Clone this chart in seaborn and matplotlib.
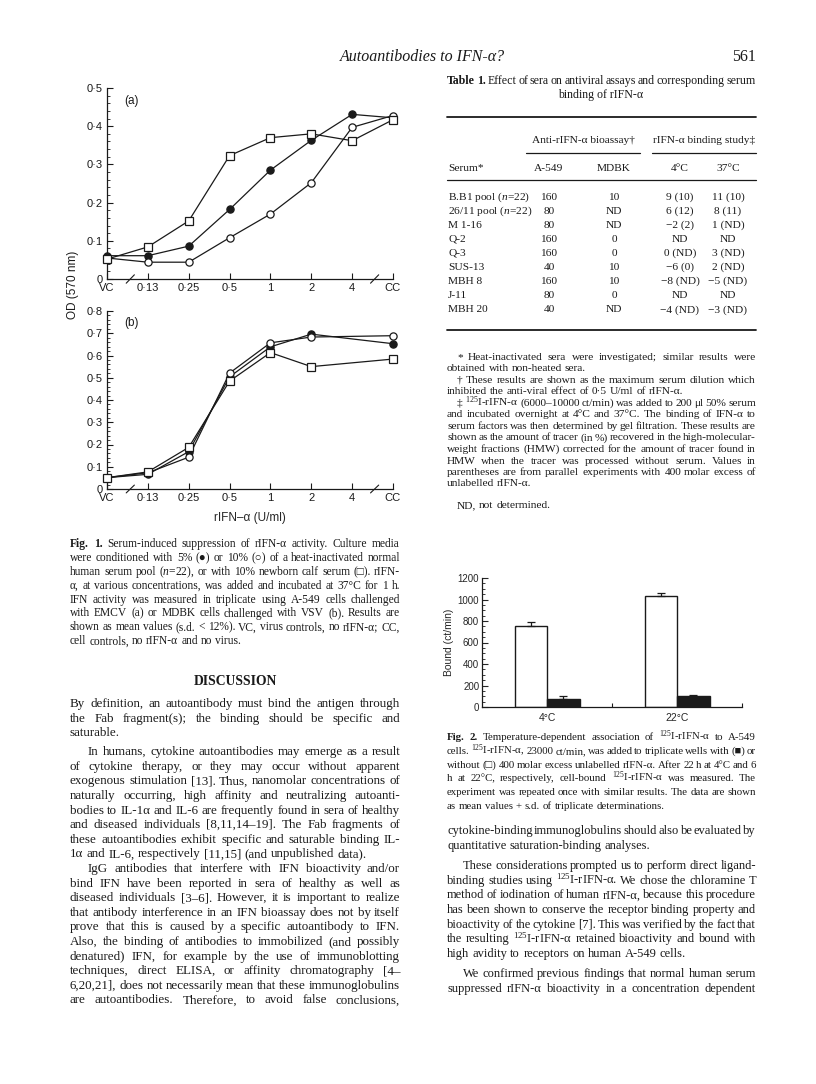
import matplotlib

matplotlib.use("Agg")
import matplotlib.pyplot as plt
import numpy as np
import pandas as pd
import seaborn as sns
from matplotlib.lines import Line2D
from matplotlib.ticker import MultipleLocator

# ---- data -------------------------------------------------------------
DOSES = ["VC", "0·13", "0·25", "0·5", "1", "2", "4", "CC"]

# Fig. 1a, A-549 cells / EMCV
A_SERUM5 = [0.061, 0.061, 0.086, 0.182, 0.285, 0.363, 0.431, 0.422]
A_SERUM10 = [0.055, 0.044, 0.044, 0.108, 0.170, 0.252, 0.397, 0.428]
A_CALF10 = [0.052, 0.084, 0.152, 0.323, 0.370, 0.380, 0.362, 0.417]

# Fig. 1b, MDBK cells / VSV (no point at 4 U/ml)
B_SERUM5 = [0.051, 0.066, 0.168, 0.504, 0.639, 0.696, np.nan, 0.653]
B_SERUM10 = [0.051, 0.073, 0.143, 0.521, 0.657, 0.683, np.nan, 0.689]
B_CALF10 = [0.051, 0.077, 0.187, 0.485, 0.613, 0.550, np.nan, 0.584]

OD_TICKS_A = ["0", "0·1", "0·2", "0·3", "0·4", "0·5"]
OD_TICKS_B = ["0", "0·1", "0·2", "0·3", "0·4", "0·5", "0·6", "0·7", "0·8"]

# Fig. 2
TEMPS = ["4°C", "22°C"]
BOUND_WITHOUT = [757, 1036]
SD_WITHOUT = [34, 21]
BOUND_WITH = [77, 102]
SD_WITH = [28, 12]
BOUND_TICKS = ["0", "200", "400", "600", "800", "1000", "1200"]

# Table 1
SERA = ["B.B1 pool ($n$=22)", "26/11 pool ($n$=22)", "M 1-16", "Q-2", "Q-3",
        "SUS-13", "MBH 8", "J-11", "MBH 20"]
A549 = ["160", "80", "80", "160", "160", "40", "160", "80", "40"]
MDBK = ["10", "ND", "ND", "0", "0", "10", "10", "0", "ND"]
BIND4 = ["9 (10)", "6 (12)", "−2 (2)", "ND", "0 (ND)", "−6 (0)", "−8 (ND)", "ND", "−4 (ND)"]
BIND37 = ["11 (10)", "8 (11)", "1 (ND)", "ND", "3 (ND)", "2 (ND)", "−5 (ND)", "ND", "−3 (ND)"]

FIG1_CAPTION = [
    "§Fig. §1. Serum-induced suppression of rIFN-α activity. Culture media",
    "were conditioned with 5% (●) or 10% (○) of a heat-inactivated normal",
    "human serum pool ($n$=22), or with 10% newborn calf serum (□). rIFN-",
    "α, at various concentrations, was added and incubated at 37°C for 1 h.",
    "IFN activity was measured in triplicate using A-549 cells challenged",
    "with EMCV (a) or MDBK cells challenged with VSV (b). Results are",
    "shown as mean values (s.d. < 12%). VC, virus controls, no rIFN-α; CC,",
    "cell controls, no rIFN-α and no virus.",
]

LEFT_BODY = [
    "By definition, an autoantibody must bind the antigen through",
    "the Fab fragment(s); the binding should be specific and",
    "saturable.",
    "In humans, cytokine autoantibodies may emerge as a result",
    "of cytokine therapy, or they may occur without apparent",
    "exogenous stimulation [13]. Thus, nanomolar concentrations of",
    "naturally occurring, high affinity and neutralizing autoanti-",
    "bodies to IL-1α and IL-6 are frequently found in sera of healthy",
    "and diseased individuals [8,11,14–19]. The Fab fragments of",
    "these autoantibodies exhibit specific and saturable binding IL-",
    "1α and IL-6, respectively [11,15] (and unpublished data).",
    "IgG antibodies that interfere with IFN bioactivity and/or",
    "bind IFN have been reported in sera of healthy as well as",
    "diseased individuals [3–6]. However, it is important to realize",
    "that antibody interference in an IFN bioassay does not by itself",
    "prove that this is caused by a specific autoantibody to IFN.",
    "Also, the binding of antibodies to immobilized (and possibly",
    "denatured) IFN, for example by the use of immunoblotting",
    "techniques, direct ELISA, or affinity chromatography [4–",
    "6,20,21], does not necessarily mean that these immunoglobulins",
    "are autoantibodies. Therefore, to avoid false conclusions,",
]

TABLE_NOTES = [
    "* Heat-inactivated sera were investigated; similar results were",
    "obtained with non-heated sera.",
    "† These results are shown as the maximum serum dilution which",
    "inhibited the anti-viral effect of 0·5 U/ml of rIFN-α.",
    "‡ $^{125}$I-rIFN-α (6000–10000 ct/min) was added to 200 μl 50% serum",
    "and incubated overnight at 4°C and 37°C. The binding of IFN-α to",
    "serum factors was then determined by gel filtration. These results are",
    "shown as the amount of tracer (in %) recovered in the high-molecular-",
    "weight fractions (HMW) corrected for the amount of tracer found in",
    "HMW when the tracer was processed without serum. Values in",
    "parentheses are from parallel experiments with 400 molar excess of",
    "unlabelled rIFN-α.",
    "ND, not determined.",
]

FIG2_CAPTION = [
    "§Fig. §2. Temperature-dependent association of $^{125}$I-rIFN-α to A-549",
    "cells. $^{125}$I-rIFN-α, 23000 ct/min, was added to triplicate wells with (■) or",
    "without (□) 400 molar excess unlabelled rIFN-α. After 22 h at 4°C and 6",
    "h at 22°C, respectively, cell-bound $^{125}$I-rIFN-α was measured. The",
    "experiment was repeated once with similar results. The data are shown",
    "as mean values + s.d. of triplicate determinations.",
]

RIGHT_BODY = [
    "cytokine-binding immunoglobulins should also be evaluated by",
    "quantitative saturation-binding analyses.",
    "These considerations prompted us to perform direct ligand-",
    "binding studies using $^{125}$I-rIFN-α. We chose the chloramine T",
    "method of iodination of human rIFN-α, because this procedure",
    "has been shown to conserve the receptor binding property and",
    "bioactivity of the cytokine [7]. This was verified by the fact that",
    "the resulting $^{125}$I-rIFN-α retained bioactivity and bound with",
    "high avidity to receptors on human A-549 cells.",
    "We confirmed previous findings that normal human serum",
    "suppressed rIFN-α bioactivity in a concentration dependent",
]

# ---- style ---------------------------------------------------------------
sns.set_style("ticks")
plt.rcParams["font.family"] = ["Liberation Serif", "DejaVu Sans"]
plt.rcParams["mathtext.fontset"] = "custom"
plt.rcParams["mathtext.rm"] = "Liberation Serif"
plt.rcParams["mathtext.it"] = "Liberation Serif:italic"
plt.rcParams["mathtext.bf"] = "Liberation Serif:bold"
plt.rcParams["text.color"] = "#1a1a1a"
SANS = ["Liberation Sans", "DejaVu Sans"]
INK = "#1a1a1a"

W, H = 816, 1084
fig = plt.figure(figsize=(W / 100, H / 100), dpi=100)
fig.patch.set_facecolor("white")
RENDERER = fig.canvas.get_renderer()


def px_axes(left, top, right, bottom):
    return fig.add_axes([left / W, 1 - bottom / H, (right - left) / W, (bottom - top) / H])


def rule(x0, x1, y, lw=0.8):
    fig.add_artist(Line2D([x0 / W, x1 / W], [1 - y / H, 1 - y / H],
                          transform=fig.transFigure, color=INK, lw=lw))


def block(lines, x0, x1, y0, dy, size, indents=(), ragged=(), indent_px=16, gaps=None):
    """Justified text, one artist per word. gaps: extra px before a line."""
    gaps = gaps or {}
    rows = []
    y = y0
    for i, line in enumerate(lines):
        y += gaps.get(i, 0)
        row = []
        for w in line.split():
            bold = w.startswith("§")
            row.append(fig.text(0, 1 - y / H, w.lstrip("§"),
                                fontsize=size, va="baseline", ha="left",
                                fontweight="bold" if bold else "normal"))
        rows.append(row)
        y += dy
    space = 0.25 * size * 100 / 72
    scale = 1.0
    for i, row in enumerate(rows):
        if i in ragged:
            continue
        widths = [t.get_window_extent(RENDERER).width for t in row]
        avail = x1 - x0 - (indent_px if i in indents else 0)
        scale = min(scale, avail / (sum(widths) + 0.7 * space * (len(row) - 1)))
    if scale < 1:
        for row in rows:
            for t in row:
                t.set_fontsize(size * scale)
    for i, row in enumerate(rows):
        widths = [t.get_window_extent(RENDERER).width for t in row]
        start = x0 + (indent_px if i in indents else 0)
        if i in ragged or len(row) == 1:
            gap = space * scale
        else:
            gap = (x1 - start - sum(widths)) / (len(row) - 1)
        x = start
        for t, w in zip(row, widths):
            t.set_x(x / W)
            x += w + gap


def axis_break(ax, x):
    ax.plot([x - 0.1, x + 0.1], [-0.022, 0.022], transform=ax.get_xaxis_transform(),
            color=INK, lw=0.8, clip_on=False)


def od_panel(ax, frame, ymax, ticklabels, tag):
    styles = {"5% human": ("o", INK), "10% human": ("o", "white"), "10% calf": ("s", "white")}
    for serum, (marker, face) in styles.items():
        sub = frame[frame["serum"] == serum].dropna()
        sns.lineplot(data=sub, x="pos", y="od", ax=ax, color=INK, lw=0.9,
                     marker=marker, ms=5.2, mfc=face, mec=INK, mew=0.9,
                     clip_on=False, zorder=3)
    ax.set_xlim(0, len(DOSES) - 1)
    ax.set_ylim(0, ymax)
    ax.set_xticks(range(len(DOSES)), DOSES, fontsize=8, family=SANS)
    ax.set_yticks(np.linspace(0, ymax, len(ticklabels)), ticklabels, fontsize=8, family=SANS)
    ax.yaxis.set_minor_locator(MultipleLocator(0.02))
    ax.tick_params(which="major", direction="in", length=4.5, width=0.8, pad=3, colors=INK)
    ax.tick_params(which="minor", direction="in", length=2.5, width=0.6, colors=INK)
    ax.set_xlabel("")
    ax.set_ylabel("")
    sns.despine(ax=ax)
    for s in ("left", "bottom"):
        ax.spines[s].set_linewidth(0.9)
        ax.spines[s].set_color(INK)
    axis_break(ax, 0.57)
    axis_break(ax, 6.55)
    ax.text(0.06, 0.93, tag, transform=ax.transAxes, fontsize=8.5, family=SANS, va="center")


def long_frame(s5, s10, c10):
    return pd.DataFrame({
        "pos": np.tile(np.arange(len(DOSES)), 3),
        "serum": np.repeat(["5% human", "10% human", "10% calf"], len(DOSES)),
        "od": s5 + s10 + c10,
    })


# ---- Fig. 1 --------------------------------------------------------------
ax_a = px_axes(107, 88, 393, 279)
od_panel(ax_a, long_frame(A_SERUM5, A_SERUM10, A_CALF10), 0.5, OD_TICKS_A, "(a)")
ax_b = px_axes(107, 311, 393, 489)
od_panel(ax_b, long_frame(B_SERUM5, B_SERUM10, B_CALF10), 0.8, OD_TICKS_B, "(b)")
ax_b.set_xlabel("rIFN–α (U/ml)", fontsize=8.5, family=SANS, labelpad=6)
fig.text(73 / W, 1 - 285 / H, "OD (570 nm)", rotation=90, fontsize=8.5, family=SANS,
         ha="center", va="center")

# ---- Fig. 2 --------------------------------------------------------------
bars = pd.DataFrame({
    "temp": TEMPS * 2,
    "tracer": ["without"] * 2 + ["with"] * 2,
    "bound": BOUND_WITHOUT + BOUND_WITH,
    "sd": SD_WITHOUT + SD_WITH,
})
ax2 = px_axes(482, 578, 742, 707)
sns.barplot(data=bars, x="temp", y="bound", hue="tracer", hue_order=["without", "with"],
            palette={"without": "white", "with": INK}, edgecolor=INK, linewidth=1.0,
            width=0.5, gap=0, errorbar=None, legend=False, ax=ax2)
for p in ax2.patches:
    h = p.get_height()
    sd = bars.loc[np.isclose(bars["bound"], h), "sd"].iloc[0]
    ax2.errorbar(p.get_x() + p.get_width() / 2, h, yerr=[[0], [sd]], fmt="none",
                 ecolor=INK, elinewidth=0.9, capsize=3, capthick=0.9)
ax2.set_xlim(-0.5, 1.5)
ax2.set_ylim(0, 1200)
ax2.set_yticks(range(0, 1201, 200), BOUND_TICKS, fontsize=7, family=SANS)
ax2.yaxis.set_minor_locator(MultipleLocator(50))
ax2.set_xticks([0, 1], TEMPS, fontsize=7.5, family=SANS)
ax2.set_xticks([0.5, 1.5], minor=True)
ax2.tick_params(axis="x", which="major", length=0, pad=4)
ax2.tick_params(which="minor", direction="in", length=3, width=0.8, colors=INK)
ax2.tick_params(axis="y", which="major", direction="in", length=4, width=0.8, pad=2)
ax2.tick_params(axis="y", which="minor", length=2.2, width=0.6)
ax2.set_xlabel("")
ax2.set_ylabel("Bound (ct/min)", fontsize=7.5, family=SANS, labelpad=3)
sns.despine(ax=ax2)
for s in ("left", "bottom"):
    ax2.spines[s].set_linewidth(0.9)
    ax2.spines[s].set_color(INK)

# ---- page text -------------------------------------------------------------
fig.text(422 / W, 1 - 61 / H, "Autoantibodies to IFN-α?", fontsize=11.5, style="italic",
         ha="center", va="baseline")
fig.text(756 / W, 1 - 61 / H, "561", fontsize=11.5, ha="right", va="baseline")

# Table 1
block(["§Table §1. Effect of sera on antiviral assays and corresponding serum"],
      447, 756, 84, 14, 8.6)
fig.text(601 / W, 1 - 98 / H, "binding of rIFN-α", fontsize=8.6, ha="center", va="baseline")
rule(447, 756, 117, 1.3)
fig.text(583 / W, 1 - 143 / H, "Anti-rIFN-α bioassay†", fontsize=8.2, ha="center", va="baseline")
fig.text(704 / W, 1 - 143 / H, "rIFN-α binding study‡", fontsize=8.2, ha="center", va="baseline")
rule(526, 640, 153, 0.9)
rule(652, 756, 153, 0.9)
for x, head in [(549, "A-549"), (614, "MDBK"), (680, "4°C"), (728, "37°C")]:
    fig.text(x / W, 1 - 171 / H, head, fontsize=8.2, ha="center", va="baseline")
fig.text(448 / W, 1 - 171 / H, "Serum*", fontsize=8.2, ha="left", va="baseline")
rule(447, 756, 180, 0.9)
for i in range(len(SERA)):
    y = 1 - (199.5 + 14.1 * i) / H
    fig.text(448 / W, y, SERA[i], fontsize=8.2, ha="left", va="baseline")
    fig.text(549 / W, y, A549[i], fontsize=8.2, ha="center", va="baseline")
    fig.text(614 / W, y, MDBK[i], fontsize=8.2, ha="center", va="baseline")
    fig.text(680 / W, y, BIND4[i], fontsize=8.2, ha="center", va="baseline")
    fig.text(728 / W, y, BIND37[i], fontsize=8.2, ha="center", va="baseline")
rule(447, 756, 330, 1.3)
block(TABLE_NOTES, 447, 756, 360, 11.5, 8.2, indents=(0, 2, 4, 12),
      ragged=(1, 3, 11, 12), indent_px=10, gaps={12: 10})

# captions and body
block(FIG1_CAPTION, 70, 400, 547, 13.9, 8.3, ragged=(7,))
fig.text(235 / W, 1 - 685 / H, "DISCUSSION", fontsize=9.8, fontweight="bold",
         ha="center", va="baseline")
block(LEFT_BODY, 70, 400, 707, 14.6, 9.4, indents=(3, 11), ragged=(2, 10),
      indent_px=18, gaps={3: 4.4})
block(FIG2_CAPTION, 447, 756, 740, 13.8, 8.3, ragged=(5,))
block(RIGHT_BODY, 447, 756, 834, 14.6, 9.4, indents=(2, 9), ragged=(1, 8),
      indent_px=16, gaps={2: 6, 9: 6})

fig.savefig("out.png", dpi=100, facecolor="white")
